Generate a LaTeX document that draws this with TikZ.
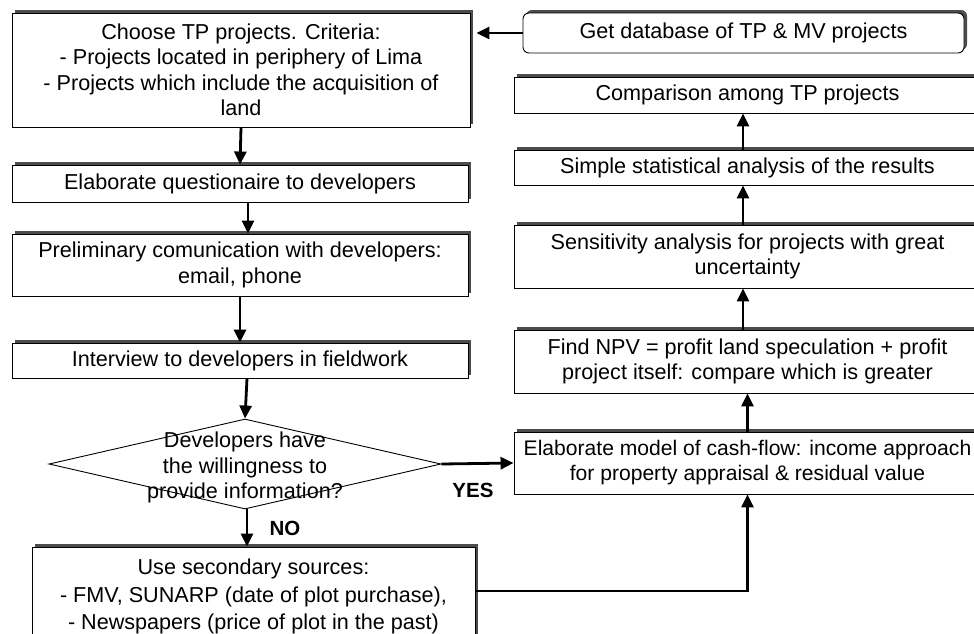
\documentclass[tikz,border=0pt]{standalone}
\usepackage{fontspec}
\setmainfont{Liberation Sans}
\usetikzlibrary{shapes.geometric,shadows,arrows.meta}
\begin{document}
\begin{tikzpicture}[x=1pt,y=-1pt,
  box/.style={draw=black, line width=0.9pt, fill=white, rectangle, inner sep=0pt, align=center,
    drop shadow={shadow xshift=3pt, shadow yshift=3pt, fill=black!70, opacity=1},
    font=\fontsize{21.6}{25.5}\selectfont},
  lbox/.style={box, minimum width=456pt},
  rbox/.style={box, minimum width=467pt},
  flow/.style={line width=2.8pt, -{Triangle[length=13pt,width=12pt]}},
  lab/.style={font=\fontsize{20.5}{24}\selectfont\bfseries, inner sep=0pt}]
\useasboundingbox (0,0) rectangle (974,633);
\clip (0,0) rectangle (974,633);

% left column
\node[lbox, minimum width=458pt, minimum height=114pt] (b1) at (241,70)
  {Choose TP projects. Criteria:\\- Projects located in periphery of Lima\\- Projects which include the acquisition of\\land};
\node[lbox, minimum height=37pt] (b2) at (240,183.5) {Elaborate questionaire to developers};
\node[lbox, minimum height=62pt] (b3) at (240,265) {Preliminary comunication with developers:\\email, phone};
\node[lbox, minimum height=35pt] (b4) at (240,360.5) {Interview to developers in fieldwork};
\node[draw=black, line width=0.9pt, fill=white, diamond, inner sep=0pt, minimum width=392pt, minimum height=90pt] (dia) at (245,464) {};
\node[align=center, inner sep=0pt, font=\fontsize{21.6}{25.5}\selectfont] (dtext) at (245,467.5)
  {Developers have\\the willingness to\\provide information?};
\node[box, minimum width=443pt, minimum height=99pt, font=\fontsize{21.6}{27.5}\selectfont] (b5) at (253.5,596.5)
  {Use secondary sources:\\- FMV, SUNARP (date of plot purchase),\\- Newspapers (price of plot in the past)};

% right column
\node[box, rounded corners=6pt, minimum width=441pt, minimum height=40pt] (g) at (743.5,33) {Get database of TP \& MV projects};
\node[rbox, minimum height=36pt] (c) at (747.5,95) {Comparison among TP projects};
\node[rbox, minimum height=35pt] (s) at (747.5,167.5) {Simple statistical analysis of the results};
\node[rbox, minimum height=63pt] (sen) at (747.5,256.5) {Sensitivity analysis for projects with great\\uncertainty};
\node[rbox, minimum height=63pt] (npv) at (747.5,361.5) {Find NPV = profit land speculation + profit\\project itself: compare which is greater};
\node[rbox, minimum height=62pt, font=\fontsize{21.1}{25}\selectfont] (em) at (747.5,463) {Elaborate model of cash-flow: income approach\\for property appraisal \& residual value};

% connectors
\draw[flow, shorten >=6pt] (g.west) -- (g.west -| b1.east);
\draw[flow] (b1.south) -- (b2.north);
\draw[flow] ([xshift=8pt]b2.south) -- ([xshift=8pt]b3.north);
\draw[flow] (b3.south) -- (b4.north);
\draw[flow] ([xshift=7pt]b4.south) -- (dia.north);
\draw[flow] ([xshift=2pt]dia.south) -- ([xshift=2pt]dia.south |- b5.north);
\draw[flow] (dia.east) -- (em.west);
\draw[flow] ([yshift=5.5pt]b5.east) -| (em.south);
\draw[flow] (em.north) -- (npv.south);
\draw[flow] ([xshift=-4.5pt]npv.north) -- ([xshift=-4.5pt]sen.south);
\draw[flow] ([xshift=-4.5pt]sen.north) -- ([xshift=-4.5pt]s.south);
\draw[flow] ([xshift=-4.5pt]s.north) -- ([xshift=-4.5pt]c.south);

\node[lab] (yes) at (473,490) {YES};
\node[lab] (no) at (285,528) {NO};
\end{tikzpicture}
\end{document}
